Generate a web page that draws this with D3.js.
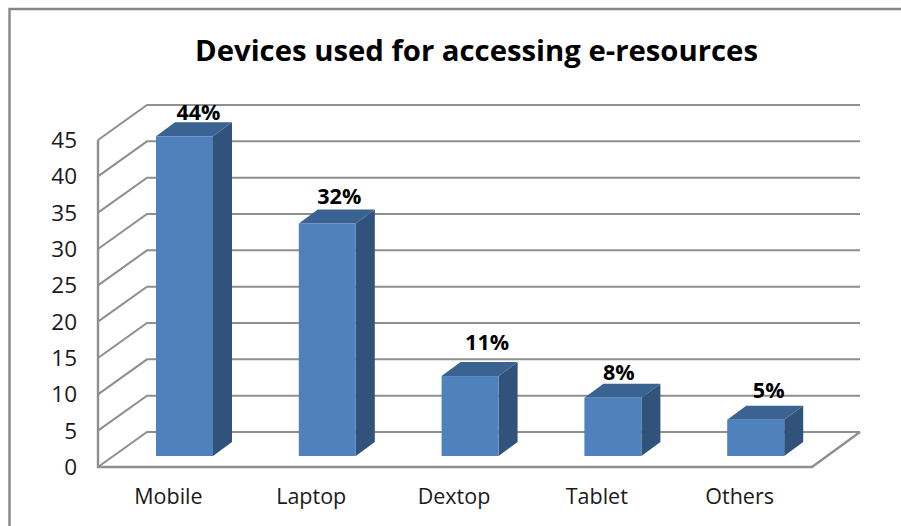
<!DOCTYPE html>
<html>
<head>
<meta charset="utf-8">
<script src="https://cdn.jsdelivr.net/npm/d3@7"></script>
<style>
  html, body { margin: 0; padding: 0; background: #fff; }
  svg { display: block; }
  text { font-family: "Open Sans", "Noto Sans", sans-serif; }
</style>
</head>
<body>
<svg id="chart" width="901" height="526"></svg>
<script>
const chartTitle = "Devices used for accessing e-resources";
const categories = ["Mobile", "Laptop", "Dextop", "Tablet", "Others"];
const shares = [44, 32, 11, 8, 5];
const shareLabels = ["44%", "32%", "11%", "8%", "5%"];
const yTicks = [0, 5, 10, 15, 20, 25, 30, 35, 40, 45];

// Layout of the fake-3D box: front floor edge, and how far the back wall is shifted
const frontLeft = 98, frontRight = 812, floorY = 467, topY = 140;
const wallDx = 49, wallDy = -35;
const barLift = 11, barWidth = 57, barInset = 58, depthDx = 19, depthDy = -14;
// Per-label nudges that place each value label above its bar
const labelGap = [2, 5, 12, 4, 8];
const labelShift = [14, 12, 17, 6, 13];

const svg = d3.select("#chart");
const x = d3.scaleBand().domain(categories).range([frontLeft, frontRight]);
const y = d3.scaleLinear().domain([0, 45]).range([floorY, topY]);
const gridColor = "#8f8f8f";

// Outer chart frame
svg.append("path")
  .attr("d", "M9.5,526V9H901")
  .attr("fill", "none").attr("stroke", "#868686").attr("stroke-width", 2.4);

svg.append("text")
  .attr("x", 476.5).attr("y", 61)
  .attr("text-anchor", "middle")
  .attr("font-size", 29.3).attr("font-weight", 700).attr("fill", "#000")
  .text(chartTitle);

// Gridlines: a diagonal on the side wall and a horizontal along the back wall
const grid = svg.append("g").attr("fill", "none").attr("stroke", gridColor);
grid.selectAll("path").data(yTicks).join("path")
  .attr("stroke-width", 2)
  .attr("d", d => `M${frontLeft},${y(d)}L${frontLeft + wallDx},${y(d) + wallDy}L860,${y(d) + wallDy}`);

// Front axis, floor edge and right-hand floor diagonal
grid.append("path")
  .attr("stroke-width", 2.4)
  .attr("d", `M${frontLeft},${topY}V${floorY}H${frontRight}L860,${floorY + wallDy}`);

svg.append("g").selectAll("text").data(yTicks).join("text")
  .attr("x", 77).attr("y", d => y(d) + 8)
  .attr("text-anchor", "end")
  .attr("font-size", 22.5).attr("fill", "#1a1a1a")
  .text(d => d);

svg.append("g").selectAll("text").data(categories).join("text")
  .attr("x", d => x(d) + x.bandwidth() / 2 - 1)
  .attr("y", 504)
  .attr("text-anchor", "middle")
  .attr("font-size", 21.5).attr("fill", "#1a1a1a")
  .text(d => d);

// Bars: side face, top face, then front face
const bars = svg.append("g").selectAll("g")
  .data(categories.map((c, i) => ({ c, v: shares[i], label: shareLabels[i], gap: labelGap[i], shift: labelShift[i] })))
  .join("g");
const bx = d => x(d.c) + barInset;
const bTop = d => y(d.v) - barLift;
const bBase = floorY - barLift;

bars.append("path").attr("fill", "#31527a")
  .attr("d", d => `M${bx(d) + barWidth},${bTop(d)}l${depthDx},${depthDy}V${bBase + depthDy}l${-depthDx},${-depthDy}Z`);
bars.append("path").attr("fill", "#3b6392")
  .attr("d", d => `M${bx(d)},${bTop(d)}l${depthDx},${depthDy}h${barWidth}l${-depthDx},${-depthDy}Z`);
bars.append("rect").attr("fill", "#4f81bd")
  .attr("x", bx).attr("y", bTop)
  .attr("width", barWidth).attr("height", d => bBase - bTop(d));

bars.append("text")
  .attr("x", d => bx(d) + barWidth / 2 + d.shift)
  .attr("y", d => bTop(d) + depthDy - d.gap)
  .attr("text-anchor", "middle")
  .attr("font-size", 21.5).attr("font-weight", 700).attr("fill", "#000")
  .text(d => d.label);
</script>
</body>
</html>
